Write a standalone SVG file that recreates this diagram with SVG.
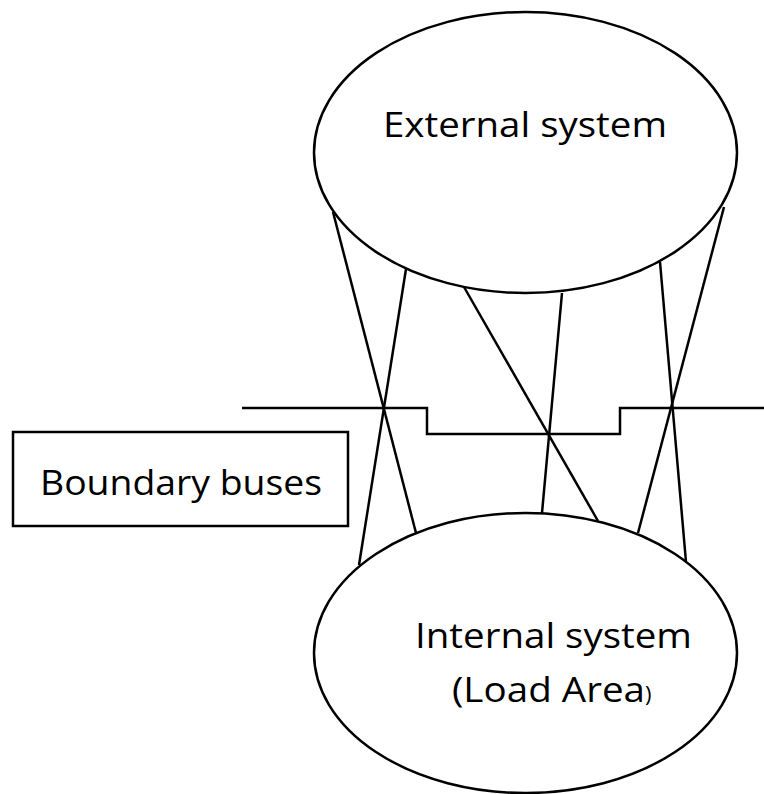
<svg xmlns="http://www.w3.org/2000/svg" width="764" height="794" viewBox="0 0 764 794">
<style>
.shape{fill:#fff;stroke:#000;stroke-width:2.5}
.ln{stroke:#000;stroke-width:2.5;fill:none}
.lbl{font-family:"Open Sans","Noto Sans","Liberation Sans",sans-serif;font-size:35px;fill:#000}
</style>
<rect width="764" height="794" fill="#fff"/>
<g id="connectors">
<line class="ln" x1="333" y1="212" x2="416" y2="533"/>
<line class="ln" x1="406" y1="269" x2="359" y2="565"/>
<line class="ln" x1="464" y1="287" x2="598" y2="521"/>
<line class="ln" x1="562" y1="293" x2="542" y2="513"/>
<line class="ln" x1="660" y1="262" x2="686" y2="562"/>
<line class="ln" x1="724" y1="207" x2="638" y2="533"/>
</g>
<g id="external-system">
<ellipse class="shape" cx="525.5" cy="152.5" rx="211.5" ry="140.5"/>
<text class="lbl" x="383" y="137" textLength="284" lengthAdjust="spacingAndGlyphs">External system</text>
</g>
<g id="internal-system">
<ellipse class="shape" cx="525.5" cy="653" rx="211.5" ry="140"/>
<text class="lbl" x="415" y="648" textLength="277" lengthAdjust="spacingAndGlyphs">Internal system</text>
<text class="lbl" x="452" y="702"><tspan textLength="193" lengthAdjust="spacingAndGlyphs">(Load Area</tspan><tspan font-size="22">)</tspan></text>
</g>
<g id="boundary-line">
<path class="ln" d="M242,408 H427 V434 H620 V408 H764" stroke-width="3"/>
</g>
<g id="boundary-buses">
<rect class="shape" x="13" y="432" width="335" height="94" stroke-width="3"/>
<text class="lbl" x="40" y="495" textLength="282" lengthAdjust="spacingAndGlyphs">Boundary buses</text>
</g>
</svg>
